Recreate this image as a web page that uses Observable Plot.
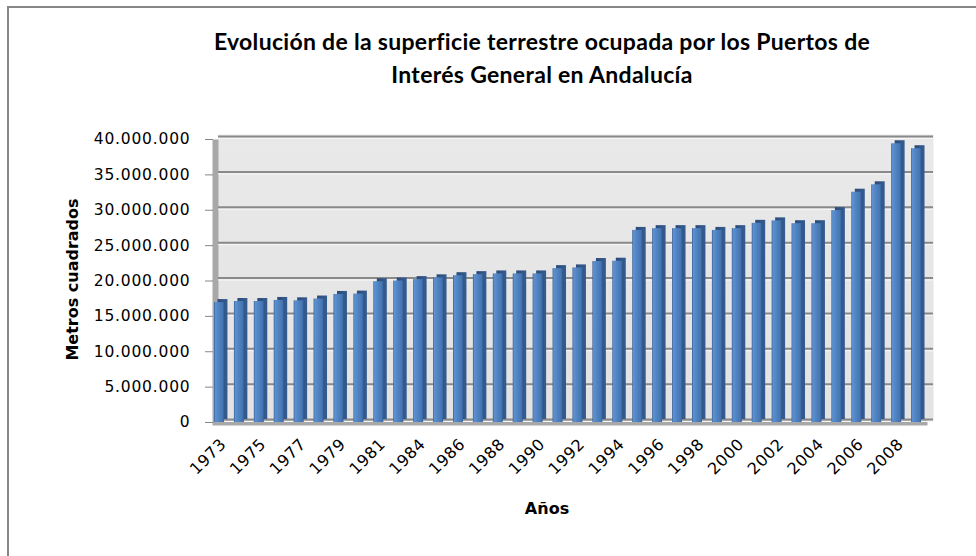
<!DOCTYPE html>
<html>
<head>
<meta charset="utf-8">
<script src="https://cdn.jsdelivr.net/npm/d3@7"></script>
<script src="https://cdn.jsdelivr.net/npm/@observablehq/plot@0.6"></script>
<style>
  body { margin: 0; background: #fff; }
  #wrap { position: relative; width: 976px; height: 556px; overflow: hidden; background: #fff; }
  #chart { position: absolute; left: 0; top: 0; }
  #border { position: absolute; left: 7px; top: 6px; width: 1000px; height: 600px;
            border-left: 2px solid #878787; border-top: 2px solid #878787; pointer-events: none; }
  #title { position: absolute; left: 0; top: 25px; width: 1084px; text-align: center;
           font: 700 23px Lato, sans-serif; letter-spacing: 0.3px; line-height: 33px; color: #000; }
  #chart g[aria-label="y-axis tick label"] text { letter-spacing: 0.8px; }
  #chart g[aria-label="x-axis tick label"] text { letter-spacing: 0.6px; }
</style>
</head>
<body>
<div id="wrap">
  <div id="chart"></div>
  <div id="title">Evolución de la superficie terrestre ocupada por los Puertos de<br>Interés General en Andalucía</div>
  <div id="border"></div>
</div>
<script>
const years = ["1973","1974","1975","1976","1977","1978","1979","1980","1981","1983",
  "1984","1985","1986","1987","1988","1989","1990","1991","1992","1993","1994",
  "1995","1996","1997","1998","1999","2000","2001","2002","2003","2004","2005",
  "2006","2007","2008","2009"];
const values = [16950000,17100000,17100000,17250000,17200000,17450000,18100000,18150000,19900000,20000000,
  20200000,20450000,20750000,20900000,21000000,21000000,21000000,21750000,21850000,22750000,22800000,
  27150000,27400000,27400000,27400000,27150000,27400000,28150000,28500000,28100000,28100000,29950000,
  32550000,33600000,39400000,38700000];
const xTickLabels = ["1973","1975","1977","1979","1981","1984","1986","1988","1990","1992",
  "1994","1996","1998","2000","2002","2004","2006","2008"];
const yTicks = [0,5000000,10000000,15000000,20000000,25000000,30000000,35000000,40000000];
const yTitle = "Metros cuadrados";
const xTitle = "Años";

const data = years.map((year, i) => ({year, value: values[i]}));
const fmt = d3.formatLocale({decimal: ",", thousands: ".", grouping: [3], currency: ["", "€"]}).format(",");

const chart = Plot.plot({
  width: 976,
  height: 556,
  marginLeft: 218,
  marginRight: 43,
  marginTop: 134,
  marginBottom: 136,
  style: {fontFamily: "DejaVu Sans, sans-serif", fontSize: "16px", color: "#000", background: "transparent", overflow: "visible"},
  x: {type: "band", domain: years, range: [214, 927], paddingInner: 0.5, paddingOuter: 0.15, align: 0},
  y: {domain: [0, 40000000], range: [422, 139]},
  marks: [
    Plot.frame({fill: "#a8a8a8", dx: -6, dy: 5}),
    Plot.frame({fill: "url(#wallGrad)"}),
    Plot.ruleY(yTicks, {stroke: "#f7f7f7", strokeWidth: 1, dy: -1}),
    Plot.ruleY(yTicks, {stroke: "#8a8a8a", strokeWidth: 2, dy: -3}),
    Plot.barY(data, {x: "year", y: "value", fill: "url(#barSide)", dx: 3.5, dy: -3}),
    Plot.barY(data, {x: "year", y: "value", fill: "url(#barFront)"}),
    Plot.axisY({ticks: yTicks, tickFormat: fmt, tickSize: 8, tickPadding: 15, dx: -5,
      stroke: "#868686", label: null, fontSize: 15.5}),
    Plot.axisX({ticks: xTickLabels, tickRotate: -45, tickSize: 0, tickPadding: 21, dx: 4,
      label: null, fontSize: 16}),
    Plot.text([yTitle], {frameAnchor: "left", textAnchor: "middle", dx: -146, dy: 2, rotate: -90,
      fontWeight: "bold", fontSize: 16}),
    Plot.text([xTitle], {frameAnchor: "bottom", textAnchor: "middle", dx: -29, dy: 93,
      fontWeight: "bold", fontSize: 16})
  ]
});

const svg = d3.select(chart);
const defs = svg.insert("defs", ":first-child");
function grad(id, stops, vertical) {
  const g = defs.append("linearGradient").attr("id", id)
    .attr("x1", 0).attr("y1", 0).attr("x2", vertical ? 0 : 1).attr("y2", vertical ? 1 : 0);
  stops.forEach(([o, c]) => g.append("stop").attr("offset", o).attr("stop-color", c));
}
grad("barFront", [[0, "#33598f"], [0.12, "#5e91d1"], [0.45, "#5084c2"], [0.85, "#4676b2"], [1, "#36609a"]]);
grad("barSide", [[0, "#2b4a78"], [1, "#355d92"]]);
grad("wallGrad", [[0, "#e9e9e9"], [1, "#e3e3e3"]], true);

document.getElementById("chart").appendChild(chart);
</script>
</body>
</html>
